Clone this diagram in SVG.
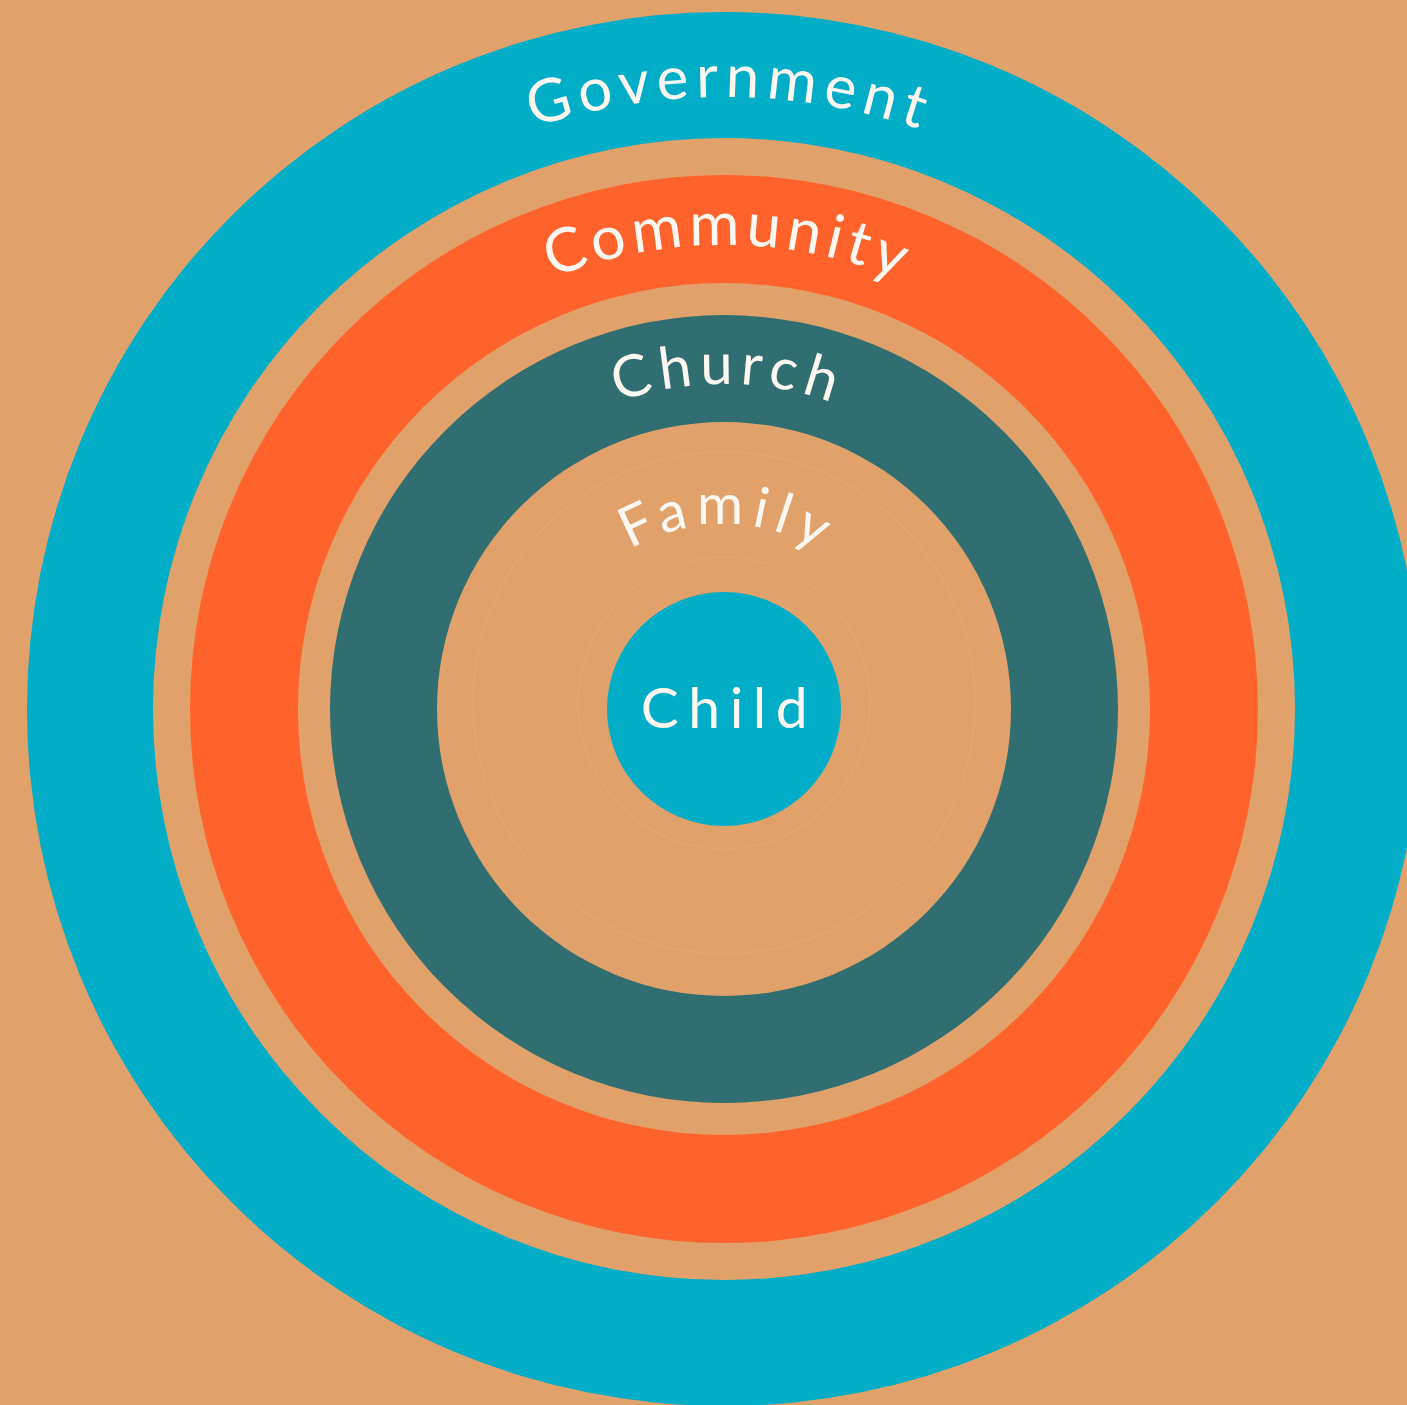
<svg xmlns="http://www.w3.org/2000/svg" xmlns:xlink="http://www.w3.org/1999/xlink" width="1407" height="1405" viewBox="0 0 1407 1405">
  <style>
    .lbl { font-family: Lato, "Open Sans", "Liberation Sans", sans-serif; fill: #FCF8F1; font-weight: normal; }
    .faint { fill: none; stroke: #E8AE7A; stroke-width: 1.2; opacity: 0.6; }
  </style>
  <defs>
    <path id="arcGov" d="M 112 709 A 612 612 0 0 1 1336 709"/>
    <path id="arcCom" d="M 260 709 A 464 464 0 0 1 1188 709"/>
    <path id="arcChu" d="M 399 709 A 325 325 0 0 1 1049 709"/>
    <path id="arcFam" d="M 539 709 A 185 185 0 0 1 909 709"/>
  </defs>
  <rect width="1407" height="1405" fill="#E1A16A"/>
  <g id="government">
    <circle cx="724" cy="709" r="697" fill="#02ADC8"/>
    <circle cx="724" cy="709" r="571" fill="#E1A16A"/>
    <text class="lbl" font-size="60" letter-spacing="7" text-anchor="middle"><textPath xlink:href="#arcGov" startOffset="50.3%">Government</textPath></text>
  </g>
  <g id="community">
    <circle cx="724" cy="709" r="534" fill="#FF632B"/>
    <circle cx="724" cy="709" r="426" fill="#E1A16A"/>
    <text class="lbl" font-size="61" letter-spacing="5.5" text-anchor="middle"><textPath xlink:href="#arcCom" startOffset="50.3%">Community</textPath></text>
  </g>
  <g id="church">
    <circle cx="724" cy="709" r="394" fill="#316E72"/>
    <circle cx="724" cy="709" r="287" fill="#E1A16A"/>
    <text class="lbl" font-size="58" letter-spacing="7" text-anchor="middle"><textPath xlink:href="#arcChu" startOffset="50.4%">Church</textPath></text>
  </g>
  <g id="family">
    <circle class="faint" cx="724" cy="703" r="251"/>
    <circle class="faint" cx="724" cy="703" r="146"/>
    <text class="lbl" font-size="56" letter-spacing="8" text-anchor="middle"><textPath xlink:href="#arcFam" startOffset="50.7%">Family</textPath></text>
  </g>
  <g id="child">
    <circle cx="724" cy="709" r="117" fill="#02ADC8"/>
    <text class="lbl" x="729" y="728" font-size="57" letter-spacing="9.5" text-anchor="middle">Child</text>
  </g>
</svg>
